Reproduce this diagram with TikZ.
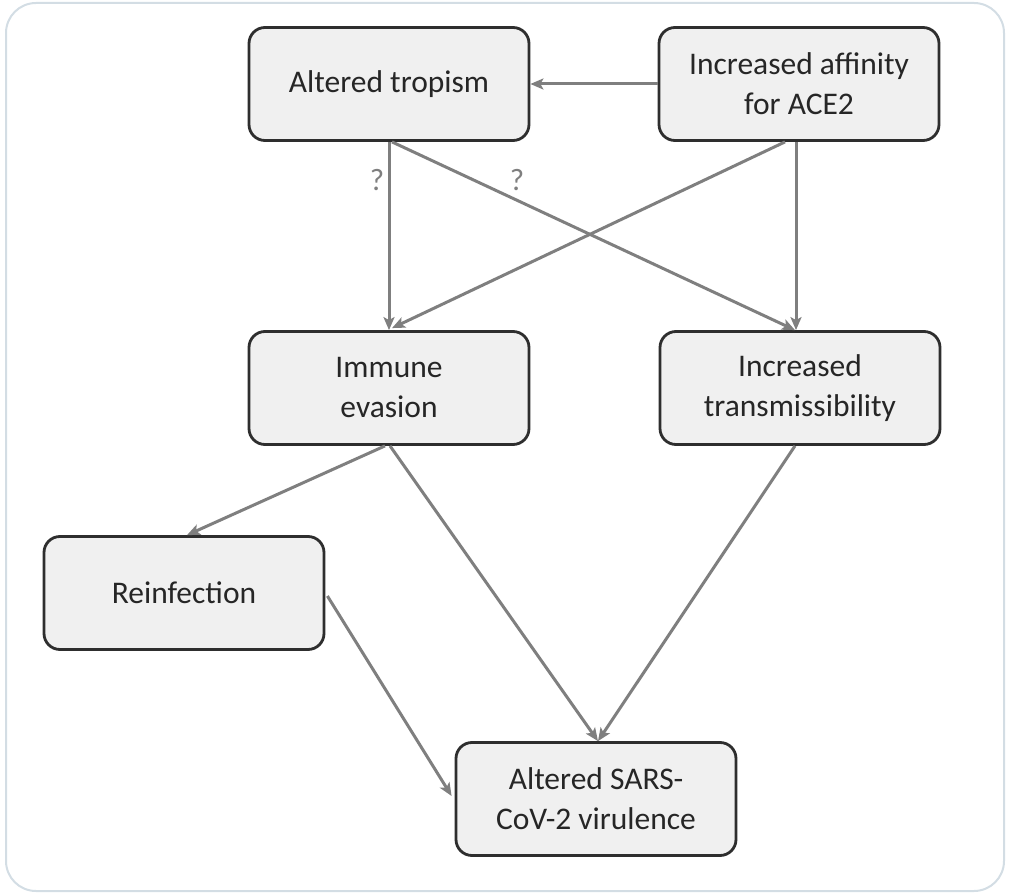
\documentclass[tikz,border=0pt]{standalone}
\usepackage{fontspec}
\setmainfont{Carlito}
\usetikzlibrary{calc,arrows.meta}
\definecolor{boxfill}{HTML}{F0F0F0}
\definecolor{boxline}{HTML}{2E2E2E}
\definecolor{arr}{HTML}{7F7F7F}
\definecolor{frame}{HTML}{D3DDE4}
\begin{document}
\begin{tikzpicture}[x=1pt,y=-1pt,
  box/.style={draw=boxline,line width=2.8pt,fill=boxfill,rounded corners=16pt,
    minimum width=280pt,minimum height=113pt,align=center,inner sep=0pt,
    font=\fontsize{31.5}{40}\selectfont,text=black!85},
  link/.style={draw=arr,line width=3pt,-{Stealth[length=13pt,width=11pt,inset=3pt]}},
  qlab/.style={text=arr,font=\fontsize{31}{34}\selectfont}]
\useasboundingbox (0,0) rectangle (1010,893);
\draw[frame,line width=2pt,rounded corners=30pt] (6,3) rectangle (1004,891);
\node[box] (trop) at (389,84) {Altered tropism};
\node[box] (aff) at (799,84) {Increased affinity\\for ACE2};
\node[box] (imm) at (389,388) {Immune\\evasion};
\node[box] (trans) at (800,388) {Increased\\transmissibility};
\node[box] (reinf) at (184,593) {Reinfection};
\node[box] (vir) at (596,799) {Altered SARS-\\CoV-2 virulence};
\node[qlab] (q1) at (377,180) {?};
\node[qlab] (q2) at (517,180) {?};
\draw[link] (aff.west) -- (trop.east);
\draw[link] (trop.south) -- (imm.north);
\draw[link] ($(trop.south)+(3,0)$) -- ($(trans.north)+(-5,0)$);
\draw[link] ($(aff.south)+(-14,0)$) -- ($(imm.north)+(3,-2)$);
\draw[link] ($(aff.south)+(-3,0)$) -- ($(trans.north)+(-4,0)$);
\draw[link] ($(imm.south)+(-4,0)$) -- ($(reinf.north)+(3,0)$);
\draw[link] ($(imm.south)+(1,0)$) -- ($(vir.north)+(2,0)$);
\draw[link] ($(trans.south)+(-5,0)$) -- ($(vir.north)+(2,0)$);
\draw[link] ($(reinf.east)+(2,3)$) -- ($(vir.west)+(-3,-3)$);
\end{tikzpicture}
\end{document}
